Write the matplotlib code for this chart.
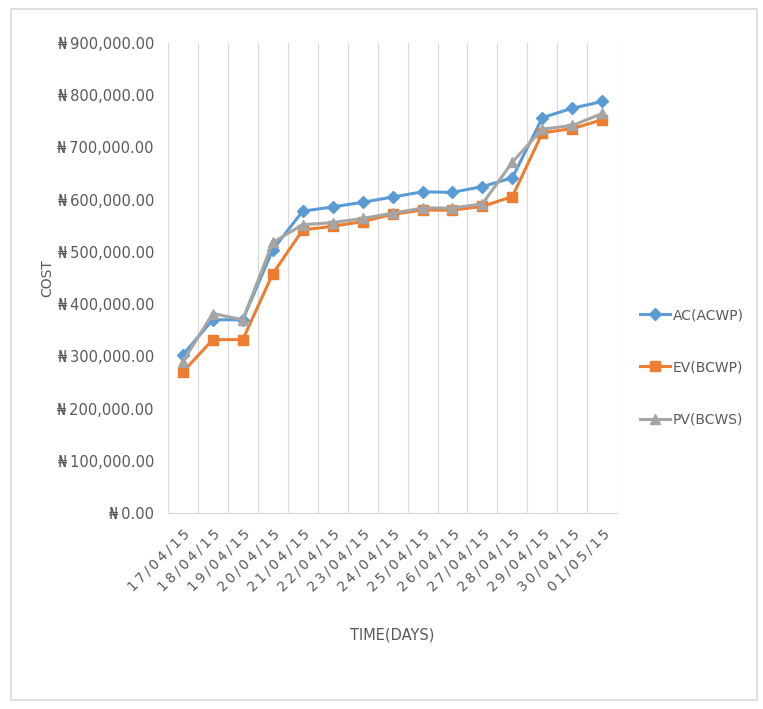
import matplotlib.pyplot as plt
from matplotlib.ticker import FuncFormatter, MultipleLocator
import numpy as np

# Earned value tracking data (Naira)
dates = ["17/04/15", "18/04/15", "19/04/15", "20/04/15", "21/04/15",
         "22/04/15", "23/04/15", "24/04/15", "25/04/15", "26/04/15",
         "27/04/15", "28/04/15", "29/04/15", "30/04/15", "01/05/15"]
ac = [303000, 370000, 370000, 504000, 578000, 586000, 595000, 605000,
      615000, 614000, 625000, 642000, 757000, 775000, 788000]
ev = [270000, 332000, 332000, 458000, 542000, 549000, 558000, 572000,
      580000, 580000, 587000, 606000, 728000, 736000, 753000]
pv = [290000, 382000, 370000, 518000, 552000, 556000, 564000, 574000,
      584000, 584000, 592000, 672000, 735000, 742000, 765000]

plt.rcParams['font.family'] = ['DejaVu Sans']
txt = '#595959'

fig = plt.figure(figsize=(7.63, 7.09), dpi=100)
ax = fig.add_axes([0.220, 0.2764, 0.589, 0.663])

x = np.arange(len(dates))
ax.plot(x, ac, color='#5B9BD5', lw=2.2, marker='D', ms=6, label='AC(ACWP)', zorder=3)
ax.plot(x, ev, color='#ED7D31', lw=2.2, marker='s', ms=7, label='EV(BCWP)', zorder=3)
ax.plot(x, pv, color='#A5A5A5', lw=2.2, marker='^', ms=7, label='PV(BCWS)', zorder=3)

ax.set_xlim(-0.5, len(dates) - 0.5)
ax.set_ylim(0, 900000)
ax.yaxis.set_major_locator(MultipleLocator(100000))
ax.yaxis.set_major_formatter(FuncFormatter(
    lambda v, p: '\u20a6\u20090.00' if v == 0 else '\u20a6\u2009{:,.2f}'.format(v)))

# vertical gridlines sit between the categories
for b in np.arange(-0.5, len(dates), 1.0):
    ax.axvline(b, color='#D9D9D9', lw=0.8, zorder=1)

# spaced-out date labels
spaced = ['\u2009'.join(d) for d in dates]
ax.set_xticks(x)
ax.set_xticklabels(spaced, rotation=45, ha='right', rotation_mode='anchor',
                   fontsize=10, color=txt)
ax.tick_params(axis='x', length=0, pad=10)
ax.tick_params(axis='y', length=0, pad=10, labelsize=10.5, labelcolor=txt)

for s in ['top', 'right', 'left']:
    ax.spines[s].set_visible(False)
ax.spines['bottom'].set_color('#D9D9D9')

ax.set_ylabel('COST', color=txt, fontsize=10, labelpad=2)
ax.set_xlabel('TIME(DAYS)', color=txt, fontsize=10.5, labelpad=24)

leg = fig.legend(loc='center left', bbox_to_anchor=(0.822, 0.482), frameon=False,
                 labelspacing=2.75, handlelength=2.2, handletextpad=0.2,
                 fontsize=10)
for t in leg.get_texts():
    t.set_color(txt)

# chart area border
fig.patches.append(plt.Rectangle((0.014, 0.012), 0.978, 0.975,
                                 transform=fig.transFigure, fill=False,
                                 edgecolor='#D9D9D9', lw=1.2))

fig.savefig('out.png', dpi=100)
